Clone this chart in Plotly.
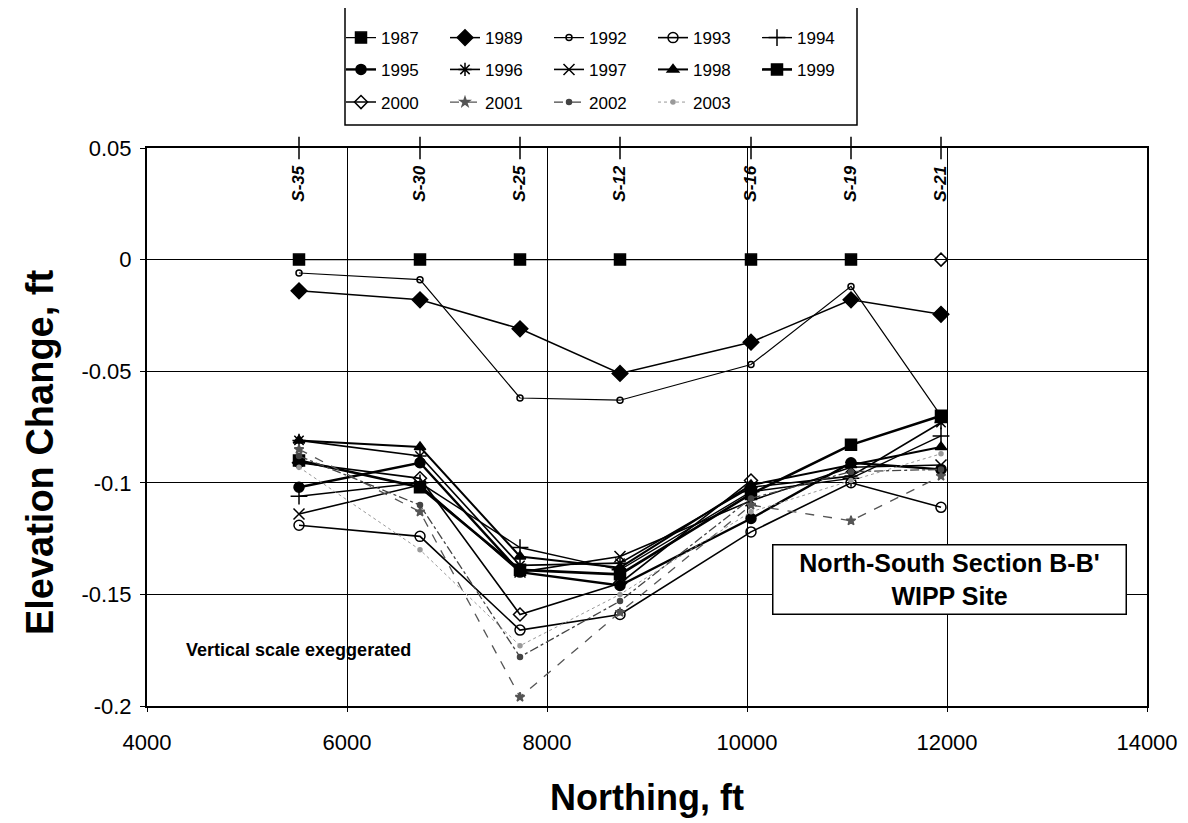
import plotly.graph_objects as go

# ---------------- data ----------------
stations = ["S-35", "S-30", "S-25", "S-12", "S-16", "S-19", "S-21"]
northing = [5520, 6730, 7730, 8730, 10040, 11040, 11940]

y1987 = [0, 0, 0, 0, 0, 0, None]
y1989 = [-0.014, -0.018, -0.031, -0.051, -0.037, -0.018, -0.0245]
y1992 = [-0.006, -0.009, -0.062, -0.063, -0.047, -0.012, -0.070]
y1993 = [-0.119, -0.124, -0.166, -0.159, -0.122, -0.100, -0.111]
y1994 = [-0.106, -0.100, -0.129, -0.139, -0.104, -0.098, -0.079]
y1995 = [-0.102, -0.091, -0.140, -0.146, -0.116, -0.091, -0.094]
y1996 = [-0.081, -0.088, -0.137, -0.136, -0.102, -0.097, -0.073]
y1997 = [-0.114, -0.101, -0.140, -0.133, -0.108, -0.093, -0.092]
y1998 = [-0.081, -0.084, -0.133, -0.138, -0.101, -0.092, -0.084]
y1999 = [-0.090, -0.102, -0.139, -0.141, -0.105, -0.083, -0.070]
y2000 = [-0.091, -0.098, -0.159, -0.145, -0.099, None, 0.0]
y2001 = [-0.085, -0.113, -0.196, -0.158, -0.110, -0.117, -0.097]
y2002 = [-0.088, -0.110, -0.178, -0.153, -0.107, -0.095, -0.094]
y2003 = [-0.093, -0.130, -0.173, -0.150, -0.113, -0.099, -0.087]

years = ["1987", "1989", "1992", "1993", "1994", "1995", "1996", "1997",
         "1998", "1999", "2000", "2001", "2002", "2003"]
values = [y1987, y1989, y1992, y1993, y1994, y1995, y1996, y1997,
          y1998, y1999, y2000, y2001, y2002, y2003]

x_ticks = [4000, 6000, 8000, 10000, 12000, 14000]
x_ticktext = ["4000", "6000", "8000", "10000", "12000", "14000"]
y_ticks = [0.05, 0, -0.05, -0.1, -0.15, -0.2]
y_ticktext = ["0.05", "0", "-0.05", "-0.1", "-0.15", "-0.2"]

FONT = "Liberation Sans, Arial"

# ---------------- styles ----------------
styles = {
    "1987": dict(sym="square", size=11, color="black", width=1.2, dash="solid"),
    "1989": dict(sym="diamond", size=12, color="black", width=1.5, dash="solid"),
    "1992": dict(sym="circle-open", size=6, color="black", width=1.2, dash="solid"),
    "1993": dict(sym="circle-open", size=10, color="black", width=1.6, dash="solid"),
    "1994": dict(sym="cross-thin-open", size=12, color="black", width=1.4, dash="solid"),
    "1995": dict(sym="circle", size=10, color="black", width=2.4, dash="solid"),
    "1996": dict(sym="asterisk-open", size=11, color="black", width=1.6, dash="solid"),
    "1997": dict(sym="x-thin-open", size=11, color="black", width=1.6, dash="solid"),
    "1998": dict(sym="triangle-up", size=10, color="black", width=2.0, dash="solid"),
    "1999": dict(sym="square", size=11, color="black", width=2.6, dash="solid"),
    "2000": dict(sym="diamond-open", size=10, color="black", width=1.6, dash="solid"),
    "2001": dict(sym="star", size=7, color="#555555", width=1.3, dash="dash"),
    "2002": dict(sym="circle", size=5, color="#444444", width=1.3, dash="dashdot"),
    "2003": dict(sym="circle", size=4, color="#999999", width=1.0, dash="dot"),
}

legend_of = {}
for i, yr in enumerate(years):
    legend_of[yr] = "legend" if i < 5 else ("legend2" if i < 10 else "legend3")

fig = go.Figure()
for yr, vals in zip(years, values):
    s = styles[yr]
    fig.add_trace(go.Scatter(
        x=northing, y=vals, name=yr, mode="lines+markers",
        line=dict(color=s["color"], width=s["width"], dash=s["dash"]),
        marker=dict(symbol=s["sym"], size=s["size"], color=s["color"],
                    line=dict(color=s["color"], width=1.5)),
        legend=legend_of[yr], connectgaps=False,
    ))

# station tick marks on the top border and rotated labels
fig.add_trace(go.Scatter(
    x=northing, y=[0.05] * len(northing), mode="markers",
    marker=dict(symbol="line-ns-open", size=16, color="black", line=dict(width=1.5, color="black")),
    showlegend=False, cliponaxis=False, hoverinfo="skip"))
for st, xv in zip(stations, northing):
    fig.add_annotation(x=xv, y=0.034, text="<b><i>" + st + "</i></b>", textangle=-90,
                       showarrow=False, font=dict(size=17, color="black", family=FONT))

fig.add_annotation(x=4370, y=-0.175, xanchor="left", text="<b>Vertical scale exeggerated</b>",
                   showarrow=False, font=dict(size=18, color="black", family=FONT))
fig.add_annotation(x=12020, y=-0.1433, text="<b>North-South Section B-B'<br>WIPP Site</b>",
                   showarrow=False, bgcolor="white", bordercolor="black", borderwidth=1.5,
                   width=350, height=66, align="center",
                   font=dict(size=25, color="black", family=FONT))

# y-axis title (placed as a rotated annotation to match its offset position)
fig.add_annotation(xref="paper", yref="paper", x=-0.107, y=0.455, xanchor="center",
                   yanchor="middle", text="<b>Elevation Change, ft</b>", textangle=-90,
                   showarrow=False, font=dict(size=38, color="black", family=FONT))

# legend frame
fig.add_shape(type="rect", xref="paper", yref="paper", x0=0.198, x1=0.710, y0=1.041, y1=1.2527,
              line=dict(color="black", width=1.5), fillcolor="white", layer="below")

leg_common = dict(orientation="h", xanchor="left", x=0.194, yanchor="middle",
                  font=dict(size=17, color="black", family=FONT),
                  bgcolor="rgba(0,0,0,0)", borderwidth=0, entrywidth=59,
                  itemwidth=30, tracegroupgap=0)

# margins compensate for the 8px default page margin of the html body
fig.update_layout(
    width=1188, height=823,
    margin=dict(l=139, r=49, t=136, b=125),
    paper_bgcolor="white", plot_bgcolor="white",
    font=dict(family=FONT, color="black"),
    legend=dict(**leg_common, y=1.197),
    legend2=dict(**leg_common, y=1.140),
    legend3=dict(**leg_common, y=1.0815),
    xaxis=dict(range=[4000, 14000], tickvals=x_ticks, ticktext=x_ticktext, showgrid=True,
               gridcolor="black", gridwidth=1.2, zeroline=False, showline=True,
               linecolor="black", linewidth=2, mirror=True, ticks="outside", ticklen=4,
               tickcolor="black", tickfont=dict(size=22), ticklabelstandoff=12,
               title=dict(text="<b>Northing, ft</b>", font=dict(size=36), standoff=30)),
    yaxis=dict(range=[-0.2, 0.05], tickvals=y_ticks, ticktext=y_ticktext, showgrid=True,
               gridcolor="black", gridwidth=1.2, zeroline=False, showline=True,
               linecolor="black", linewidth=2, mirror=True, ticks="outside", ticklen=5,
               tickcolor="black", tickfont=dict(size=22), ticklabelstandoff=4),
)

fig.write_html("out.html")
